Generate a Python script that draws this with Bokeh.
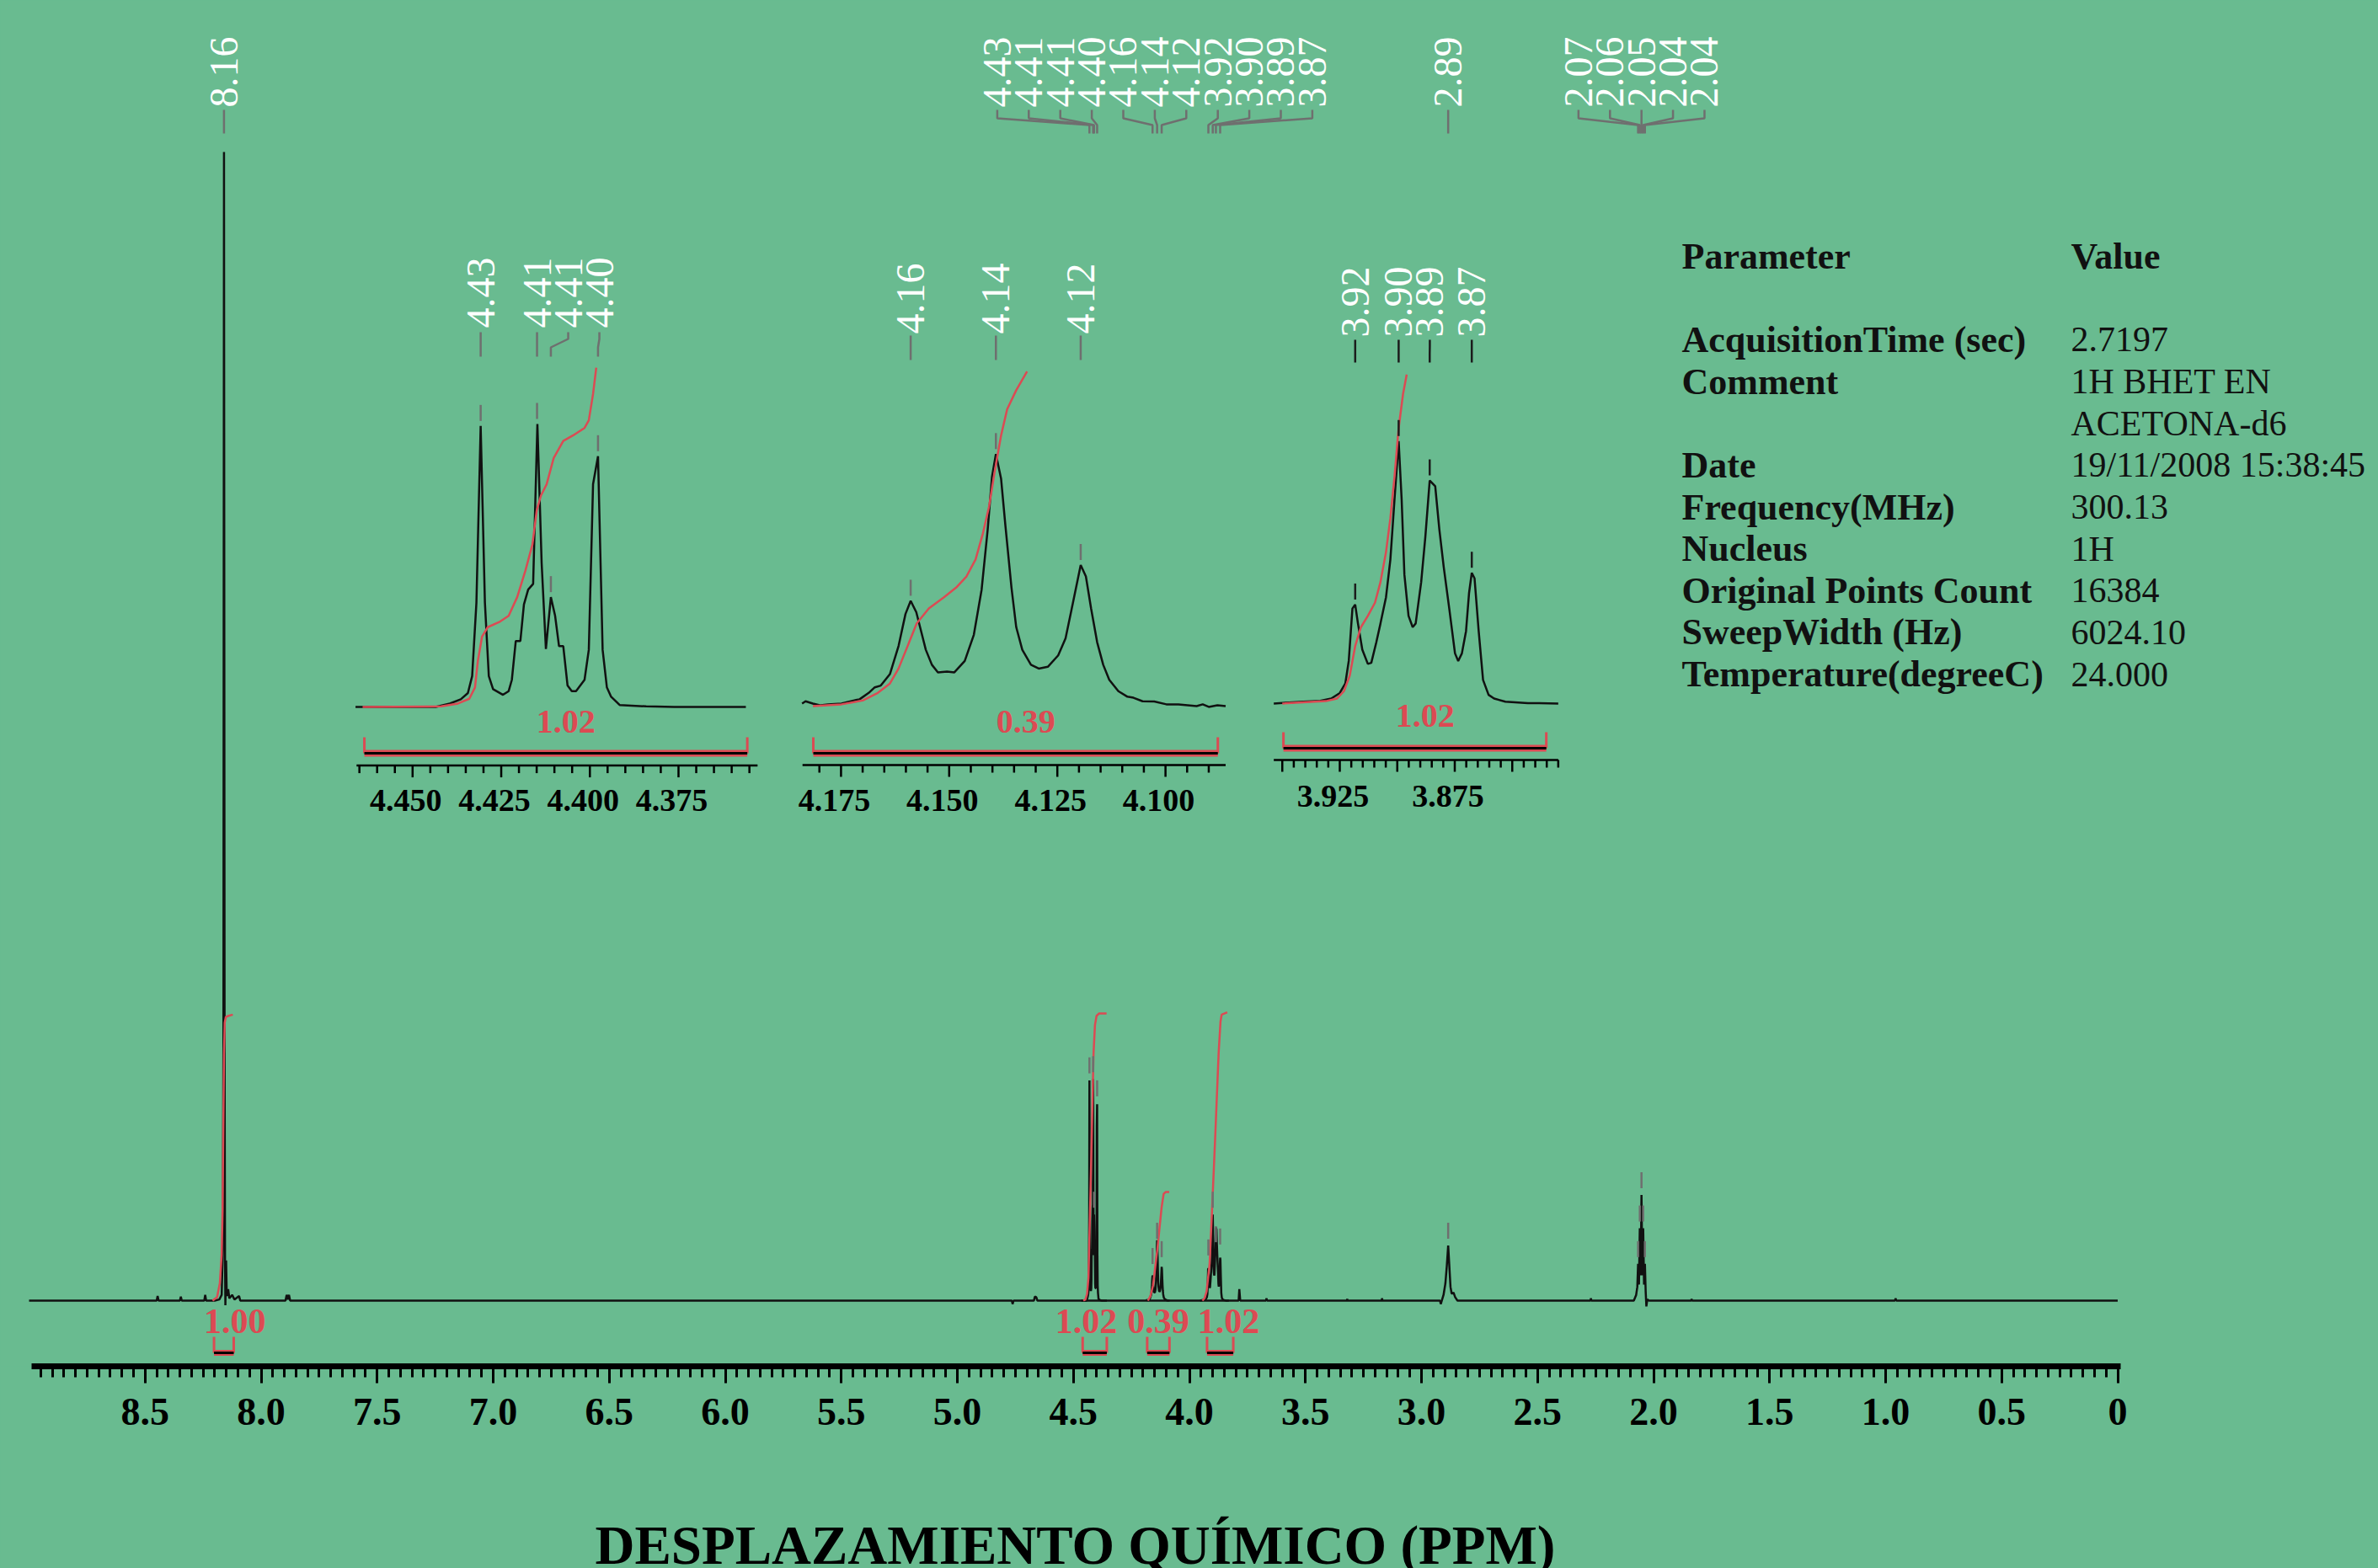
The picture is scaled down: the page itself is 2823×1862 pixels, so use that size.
import numpy as np
from bokeh.plotting import figure
from bokeh.layouts import column
from bokeh.models import Range1d, FixedTicker, PrintfTickFormatter
from bokeh.core.properties import value
from bokeh.embed import file_html
from bokeh.resources import INLINE

# ----------------------------------------------------------------- data
# main 1H spectrum outside the three zoomed multiplets (ppm, intensity; 8.16 singlet = 100)
MAIN_TRACE = [
    (9.000, 0.0), (8.450, 0.0), (8.446, 0.4), (8.442, 0.0), (8.350, 0.0), (8.346, 0.35),
    (8.342, 0.0), (8.245, 0.0), (8.241, 0.5), (8.237, 0.0), (8.200, 0.0), (8.180, 0.1),
    (8.170, 0.5), (8.165, 4.5), (8.1625, 22.0), (8.1600, 100.0), (8.1575, 22.0), (8.1555, 3.0),
    (8.1540, -0.4), (8.1510, 3.5), (8.1480, 0.4), (8.1420, 1.0), (8.1370, 0.2), (8.1250, 0.5),
    (8.1150, 0.1), (8.0950, 0.4), (8.0900, 0.0), (7.8950, 0.0), (7.8900, 0.5), (7.8850, 0.1),
    (7.8800, 0.5), (7.8750, 0.0), (4.7650, 0.0), (4.7620, -0.3), (4.7580, 0.0), (4.6700, 0.0),
    (4.6660, 0.35), (4.6600, 0.3), (4.6550, 0.0), (4.4700, 0.0), (4.3500, 0.0), (4.1900, 0.0),
    (4.0800, 0.0), (3.9600, 0.0), (3.8250, 0.0), (3.7880, 0.0), (3.7850, 1.0), (3.7810, 0.0),
    (3.6700, 0.0), (3.6680, 0.2), (3.6650, 0.0), (3.3220, 0.0), (3.3200, 0.15), (3.3180, 0.0),
    (3.1720, 0.0), (3.1700, 0.2), (3.1680, 0.0), (2.9600, 0.0), (2.9200, 0.0), (2.9170, -0.3),
    (2.9050, 0.5), (2.8970, 1.5), (2.8910, 3.0), (2.8850, 4.8), (2.8800, 3.0), (2.8750, 1.2),
    (2.8700, 0.6), (2.8620, 0.7), (2.8550, 0.3), (2.8450, 0.0), (2.2720, 0.0), (2.2700, 0.2),
    (2.2680, 0.0), (2.0850, 0.0), (2.0750, 0.5), (2.0700, 1.2), (2.0667, 3.2), (2.0630, 1.4),
    (2.0593, 6.3), (2.0556, 2.2), (2.0520, 9.2), (2.0483, 2.2), (2.0447, 6.3), (2.0410, 1.4),
    (2.0373, 3.2), (2.0340, 0.8), (2.0310, -0.5), (2.0270, 0.1), (2.0200, 0.0), (1.8380, 0.0),
    (1.8360, 0.15), (1.8340, 0.0), (0.9600, 0.0), (0.9570, 0.2), (0.9540, 0.0), (0.0000, 0.0),
]

# zoomed multiplets (ppm, intensity; tallest line of each multiplet = 100)
IN1_TRACE = [
    (4.4661, 0.0), (4.4435, 0.0), (4.4395, 1.2), (4.4364, 2.7), (4.4344, 4.9), (4.4332, 10.9),
    (4.4320, 36.8), (4.4308, 99.3), (4.4296, 36.8), (4.4285, 10.9), (4.4273, 6.3), (4.4245, 4.3),
    (4.4229, 5.6), (4.4220, 9.6), (4.4209, 23.3), (4.4196, 23.3), (4.4186, 36.2), (4.4174, 41.5),
    (4.4160, 43.5), (4.4148, 100.0), (4.4136, 50.8), (4.4124, 20.5), (4.4110, 38.8), (4.4098, 32.2),
    (4.4087, 21.5), (4.4075, 21.5), (4.4063, 7.6), (4.4051, 5.6), (4.4039, 5.6), (4.4015, 9.6),
    (4.4003, 20.2), (4.3991, 78.7), (4.3977, 88.6), (4.3964, 20.2), (4.3952, 6.9), (4.3940, 3.6),
    (4.3916, 0.7), (4.3841, 0.2), (4.3762, 0.0), (4.3560, 0.0),
]
IN2_TRACE = [
    (4.1840, 1.0), (4.1832, 1.9), (4.1815, 1.0), (4.1797, 0.3), (4.1780, 0.7), (4.1749, 1.0),
    (4.1721, 2.2), (4.1707, 2.7), (4.1686, 5.2), (4.1672, 7.4), (4.1658, 8.1), (4.1637, 12.6),
    (4.1617, 23.7), (4.1601, 36.3), (4.1589, 41.5), (4.1576, 37.0), (4.1554, 22.2), (4.1540, 16.3),
    (4.1526, 13.3), (4.1505, 13.6), (4.1488, 13.3), (4.1464, 17.8), (4.1443, 28.1), (4.1425, 45.9),
    (4.1411, 69.6), (4.1401, 90.4), (4.1392, 99.3), (4.1380, 89.6), (4.1370, 71.1), (4.1356, 46.7),
    (4.1345, 31.1), (4.1331, 22.2), (4.1311, 16.3), (4.1293, 14.8), (4.1272, 15.5), (4.1248, 20.0),
    (4.1231, 26.7), (4.1213, 41.5), (4.1196, 55.6), (4.1184, 51.1), (4.1172, 38.5), (4.1158, 25.2),
    (4.1144, 16.3), (4.1130, 10.4), (4.1109, 5.9), (4.1088, 3.7), (4.1074, 3.3), (4.1053, 1.9),
    (4.1026, 1.8), (4.0998, 0.7), (4.0970, 0.7), (4.0928, 0.0), (4.0914, 0.7), (4.0900, -0.3),
    (4.0880, 0.3), (4.0861, 0.0),
]
IN3_TRACE = [
    (3.9537, 0.0), (3.9470, 0.4), (3.9409, 0.7), (3.9335, 1.0), (3.9287, 1.9), (3.9250, 4.0),
    (3.9226, 7.6), (3.9211, 16.2), (3.9195, 36.2), (3.9183, 37.7), (3.9171, 30.5), (3.9152, 20.5),
    (3.9128, 15.1), (3.9113, 15.5), (3.9091, 23.4), (3.9073, 30.5), (3.9049, 40.5), (3.9030, 54.9),
    (3.9012, 77.8), (3.8994, 100.0), (3.8981, 77.8), (3.8969, 49.1), (3.8951, 33.4), (3.8933, 29.1),
    (3.8920, 30.5), (3.8896, 46.3), (3.8878, 63.5), (3.8859, 85.0), (3.8835, 82.8), (3.8817, 66.3),
    (3.8798, 52.0), (3.8774, 36.2), (3.8749, 19.1), (3.8735, 16.2), (3.8719, 19.1), (3.8701, 27.6),
    (3.8688, 42.0), (3.8676, 49.8), (3.8664, 47.7), (3.8646, 27.6), (3.8627, 9.0), (3.8603, 3.3),
    (3.8579, 1.9), (3.8530, 0.7), (3.8432, 0.1), (3.8383, 0.1), (3.8300, 0.0),
]
# height of each multiplet's tallest line in main-spectrum units
CLUSTER_SCALE = [0.193, 0.053, 0.075]

# integral curves, insets (inset units)
IN1_INTEGRAL = [
    (4.4641, 0.0), (4.4419, 0.2), (4.4372, 1.2), (4.4340, 2.9), (4.4324, 6.9), (4.4316, 16.2),
    (4.4304, 24.9), (4.4288, 28.2), (4.4253, 30.2), (4.4229, 32.2), (4.4205, 38.8), (4.4182, 48.1),
    (4.4162, 57.4), (4.4150, 69.4), (4.4138, 74.7), (4.4122, 78.7), (4.4102, 88.0), (4.4075, 94.0),
    (4.4047, 96.0), (4.4015, 98.6), (4.4003, 101.3), (4.3991, 110.6), (4.3982, 119.9),
]
IN2_INTEGRAL = [
    (4.1815, 0.0), (4.1749, 0.7), (4.1700, 2.2), (4.1665, 5.2), (4.1637, 8.9), (4.1617, 14.8),
    (4.1596, 23.7), (4.1575, 32.6), (4.1547, 38.5), (4.1512, 42.9), (4.1484, 46.7), (4.1460, 51.1),
    (4.1439, 57.8), (4.1422, 68.1), (4.1408, 78.5), (4.1394, 93.3), (4.1380, 106.7), (4.1366, 117.0),
    (4.1345, 124.5), (4.1320, 131.9),
]
IN3_INTEGRAL = [
    (3.9500, 0.0), (3.9311, 0.9), (3.9262, 1.9), (3.9232, 4.7), (3.9207, 10.5), (3.9183, 21.9),
    (3.9158, 29.1), (3.9128, 33.4), (3.9097, 38.4), (3.9073, 46.3), (3.9049, 57.7), (3.9030, 70.6),
    (3.9012, 86.4), (3.8994, 105.0), (3.8975, 117.9), (3.8959, 125.4),
]
# integral curves, main spectrum (main units)
MAIN_INTEGRALS = [
    [(8.209, 0.0), (8.190, 0.3), (8.178, 1.5), (8.170, 4.0), (8.166, 8.0), (8.163, 15.0),
     (8.160, 21.5), (8.157, 24.2), (8.152, 24.7), (8.140, 24.8), (8.122, 24.9)],
    [(4.457, 0.0), (4.448, 0.1), (4.441, 0.6), (4.435, 2.0), (4.424, 11.5), (4.413, 21.6),
     (4.407, 24.0), (4.400, 24.8), (4.389, 25.0), (4.357, 25.0)],
    [(4.179, 0.0), (4.168, 0.4), (4.157, 1.3), (4.138, 4.5), (4.120, 8.1), (4.111, 9.3),
     (4.102, 9.46), (4.087, 9.46)],
    [(3.944, 0.0), (3.935, 0.2), (3.926, 0.8), (3.913, 3.2), (3.902, 8.1), (3.889, 14.2),
     (3.874, 21.6), (3.866, 24.3), (3.861, 24.9), (3.837, 25.1)],
]
MAIN_INTEG_FROM = [8.203, 4.460, 4.182, 3.924]
MAIN_INTEG_TO = [8.118, 4.356, 4.086, 3.811]
MAIN_INTEG_LABELS = ["1.00", "1.02", "0.39", "1.02"]

IN_INTEG_FROM = [4.4636, 4.1814, 3.9495]
IN_INTEG_TO = [4.3556, 4.0879, 3.8352]
IN_INTEG_LABELS = ["1.02", "0.39", "1.02"]

# picked peaks of the main spectrum
MAIN_PEAK_PPM = [8.160,
                 4.4308, 4.4149, 4.4110, 4.3977, 4.1589, 4.1392, 4.1196,
                 3.9183, 3.8994, 3.8859, 3.8676,
                 2.885,
                 2.0667, 2.0593, 2.0520, 2.0447, 2.0373]
MAIN_PEAK_LABELS = ["8.16",
                    "4.43", "4.41", "4.41", "4.40", "4.16", "4.14", "4.12",
                    "3.92", "3.90", "3.89", "3.87",
                    "2.89",
                    "2.07", "2.06", "2.05", "2.04", "2.04"]
MAIN_PEAK_HEIGHT = [100.0,
                    19.2, 19.3, 7.5, 17.2, 2.6, 4.8, 3.2,
                    3.35, 7.5, 4.5, 4.3,
                    4.8,
                    3.2, 6.3, 9.2, 6.3, 3.2]
MAIN_PEAK_GROUP = [0, 1, 1, 1, 1, 1, 1, 1, 1, 1, 1, 1, 2, 3, 3, 3, 3, 3]

IN1_PEAK_PPM = [4.4308, 4.4149, 4.4110, 4.3977]
IN1_PEAK_HEIGHT = [99.3, 100.0, 38.8, 88.6]
IN1_PEAK_LABELS = ["4.43", "4.41", "4.41", "4.40"]
IN2_PEAK_PPM = [4.1589, 4.1392, 4.1196]
IN2_PEAK_HEIGHT = [41.5, 99.3, 55.6]
IN2_PEAK_LABELS = ["4.16", "4.14", "4.12"]
IN3_PEAK_PPM = [3.9183, 3.8994, 3.8859, 3.8676]
IN3_PEAK_HEIGHT = [37.7, 100.0, 85.0, 49.8]
IN3_PEAK_LABELS = ["3.92", "3.90", "3.89", "3.87"]

# axes
X_TICKS = [0.0, 0.5, 1.0, 1.5, 2.0, 2.5, 3.0, 3.5, 4.0, 4.5, 5.0, 5.5, 6.0, 6.5, 7.0, 7.5, 8.0, 8.5]
X_TICK_LABELS = ["0", "0.5", "1.0", "1.5", "2.0", "2.5", "3.0", "3.5", "4.0", "4.5", "5.0",
                 "5.5", "6.0", "6.5", "7.0", "7.5", "8.0", "8.5"]
X_TITLE = "DESPLAZAMIENTO QUÍMICO (PPM)"
IN1_TICK_LABELS = ["4.450", "4.425", "4.400", "4.375"]
IN2_TICK_LABELS = ["4.175", "4.150", "4.125", "4.100"]
IN3_TICK_LABELS = ["3.925", "3.875"]
IN_TICK_SPAN = [(4.465, 4.355), (4.180, 4.090), (3.950, 3.830)]
IN_AXIS_SPAN = [(4.4658, 4.3527), (4.1839, 4.0861), (3.9537, 3.8300)]

# acquisition parameters
TABLE_HEADER = ["Parameter", "Value"]
TABLE_PARAMS = ["AcquisitionTime (sec)", "Comment", "Date", "Frequency(MHz)", "Nucleus",
                "Original Points Count", "SweepWidth (Hz)", "Temperature(degreeC)"]
TABLE_VALUES = [["2.7197"], ["1H BHET  EN", "ACETONA-d6"], ["19/11/2008 15:38:45"], ["300.13"],
                ["1H"], ["16384"], ["6024.10"], ["24.000"]]

# ----------------------------------------------------------------- style / layout
BG = "#69bb90"
RED = "#dc4a53"
GRAY = "#6f6f6f"
INK = "#111111"
SERIF = "Liberation Serif"

W = 2823
H_MAIN, H_TITLE = 1800, 62
FRAME_BOTTOM = 1622          # page y of the main axis line
FRAME_RIGHT = W

MAIN_ZERO_PX, MAIN_PPP = 2513.5, 275.5
MAIN_BASE, MAIN_PPU = 1544.0, 13.64


def x_rng(ref_px, ref_ppm, ppp):
    return Range1d(start=ref_ppm + ref_px / ppp, end=ref_ppm - (FRAME_RIGHT - ref_px) / ppp)


def y_rng(base_px, ppu):
    return Range1d(start=-(FRAME_BOTTOM - base_px) / ppu, end=base_px / ppu)


def main_px(ppm):
    return MAIN_ZERO_PX - MAIN_PPP * ppm


def main_ppm(px):
    return (MAIN_ZERO_PX - px) / MAIN_PPP


INSETS = [
    dict(ref_px=489.3, ref_ppm=4.450, ppp=4209.0, base=839.0, ppu=3.36,
         trace=IN1_TRACE, integ=IN1_INTEGRAL, pk=IN1_PEAK_PPM, ph=IN1_PEAK_HEIGHT, pl=IN1_PEAK_LABELS,
         ticklab=IN1_TICK_LABELS, lab_bottom=389, conn=[394, 402, 412, 423], brk=(875, 894),
         integ_lab_y=856, axis_y=908.6, ticklab_y=949.6, col=GRAY),
    dict(ref_px=997.9, ref_ppm=4.175, ppp=5136.0, base=838.0, ppu=3.013,
         trace=IN2_TRACE, integ=IN2_INTEGRAL, pk=IN2_PEAK_PPM, ph=IN2_PEAK_HEIGHT, pl=IN2_PEAK_LABELS,
         ticklab=IN2_TICK_LABELS, lab_bottom=396, conn=[398, 406, 416, 427], brk=(875, 894),
         integ_lab_y=856, axis_y=908.0, ticklab_y=949.6, col=GRAY),
    dict(ref_px=1590.0, ref_ppm=3.925, ppp=2730.0, base=834.9, ppu=3.116,
         trace=IN3_TRACE, integ=IN3_INTEGRAL, pk=IN3_PEAK_PPM, ph=IN3_PEAK_HEIGHT, pl=IN3_PEAK_LABELS,
         ticklab=IN3_TICK_LABELS, lab_bottom=400, conn=[403, 411, 420, 430], brk=(869, 888),
         integ_lab_y=849, axis_y=902.0, ticklab_y=945.0, col="#1c1c1c"),
]

p = figure(width=W, height=H_MAIN, title=None,
           x_range=x_rng(MAIN_ZERO_PX, 0.0, MAIN_PPP), y_range=y_rng(MAIN_BASE, MAIN_PPU),
           output_backend="svg", toolbar_location=None, y_axis_location=None,
           min_border=0, min_border_bottom=H_MAIN - FRAME_BOTTOM,
           background_fill_color=BG, border_fill_color=BG, outline_line_color=None)
p.xgrid.visible = False
p.ygrid.visible = False

p.extra_x_ranges = {"px": Range1d(start=0, end=FRAME_RIGHT)}
p.extra_y_ranges = {"px": Range1d(start=FRAME_BOTTOM, end=0)}
for k, f in enumerate(CLUSTER_SCALE):
    p.extra_y_ranges["c%d" % k] = y_rng(MAIN_BASE, MAIN_PPU * f)
for k, d in enumerate(INSETS):
    p.extra_x_ranges["ix%d" % k] = x_rng(d["ref_px"], d["ref_ppm"], d["ppp"])
    p.extra_y_ranges["iy%d" % k] = y_rng(d["base"], d["ppu"])

# ---- main x axis
ax = p.xaxis[0]
minor = [round(0.05 * i, 2) for i in range(0, 180)]
ax.ticker = FixedTicker(ticks=X_TICKS, minor_ticks=minor)
ax.formatter = PrintfTickFormatter(format="%.1f")
ax.major_label_overrides = {float(t): l for t, l in zip(X_TICKS, X_TICK_LABELS)}
ax.bounds = (-0.012, 8.99)
ax.axis_line_width = 7
ax.axis_line_color = "black"
ax.major_tick_line_width = 3
ax.minor_tick_line_width = 3
ax.major_tick_line_color = "black"
ax.minor_tick_line_color = "black"
ax.major_tick_in = 0
ax.minor_tick_in = 0
ax.major_tick_out = 20
ax.minor_tick_out = 13
ax.major_label_standoff = 18
ax.major_label_text_font = SERIF
ax.major_label_text_font_style = "bold"
ax.major_label_text_font_size = "46px"
ax.major_label_text_color = "black"

# ---- main spectrum
mx, my = zip(*MAIN_TRACE)
p.line(list(mx), list(my), line_color=INK, line_width=2.5)
for k, tr in enumerate([IN1_TRACE, IN2_TRACE, IN3_TRACE]):
    tx, ty = zip(*tr)
    p.line(list(tx), list(ty), y_range_name="c%d" % k, line_color=INK, line_width=2.5)

# main integrals
for curve in MAIN_INTEGRALS:
    cx, cy = zip(*curve)
    p.line(list(cx), list(cy), line_color=RED, line_width=2.5)


def bracket(x0, x1, y_top, y_bot, xr_name, lw_red=7, lw_black=3):
    p.segment([x0, x1], [y_top, y_top], [x0, x1], [y_bot, y_bot], x_range_name=xr_name,
              y_range_name="px", line_color=RED, line_width=3)
    p.segment([x0], [y_bot], [x1], [y_bot], x_range_name=xr_name, y_range_name="px",
              line_color=RED, line_width=lw_red)
    p.segment([x0], [y_bot], [x1], [y_bot], x_range_name=xr_name, y_range_name="px",
              line_color="black", line_width=lw_black)


MAIN_INTEG_LABEL_DX = [13, -10, 0, 10]
for a, b in zip(MAIN_INTEG_FROM, MAIN_INTEG_TO):
    bracket(a, b, 1587, 1606, "default")
p.text(x=[0.5 * (a + b) for a, b in zip(MAIN_INTEG_FROM, MAIN_INTEG_TO)], y=[1568] * 4,
       text=MAIN_INTEG_LABELS, x_offset=MAIN_INTEG_LABEL_DX, y_range_name="px", text_color=RED,
       text_font=value(SERIF), text_font_style="bold", text_font_size="42px",
       text_align="center", text_baseline="middle")

# main peak markers
GAP, LEN = 8, 19
sel = [i for i, g in enumerate(MAIN_PEAK_GROUP) if g != 0]
p.segment([MAIN_PEAK_PPM[i] for i in sel], [MAIN_PEAK_HEIGHT[i] + GAP / MAIN_PPU for i in sel],
          [MAIN_PEAK_PPM[i] for i in sel], [MAIN_PEAK_HEIGHT[i] + (GAP + LEN) / MAIN_PPU for i in sel],
          line_color=GRAY, line_width=2.5)

# main peak labels (spread per group)
LABEL_GAP = 37.4
lab_px = [0.0] * len(MAIN_PEAK_PPM)
for g in sorted(set(MAIN_PEAK_GROUP)):
    idx = [i for i, gg in enumerate(MAIN_PEAK_GROUP) if gg == g]
    pxs = [main_px(MAIN_PEAK_PPM[i]) for i in idx]
    c = 0.5 * (min(pxs) + max(pxs))
    n = len(idx)
    for k, i in enumerate(idx):
        lab_px[i] = c + (k - (n - 1) / 2) * LABEL_GAP
lab_ppm = [main_ppm(v) for v in lab_px]
p.multi_line([[l, l, q, q] for l, q in zip(lab_ppm, MAIN_PEAK_PPM)],
             [[130, 140, 148, 158]] * len(lab_ppm), y_range_name="px",
             line_color=GRAY, line_width=2.5)
p.text(x=lab_ppm, y=[127] * len(lab_ppm), text=MAIN_PEAK_LABELS, angle=np.pi / 2,
       y_range_name="px", text_color="white", text_font=value(SERIF), text_font_size="48px",
       text_align="left", text_baseline="middle")

# ---- insets
for k, d in enumerate(INSETS):
    xn, yn = "ix%d" % k, "iy%d" % k
    tx, ty = zip(*d["trace"])
    p.line(list(tx), list(ty), x_range_name=xn, y_range_name=yn, line_color=INK, line_width=2.5)
    ix, iy = zip(*d["integ"])
    p.line(list(ix), list(iy), x_range_name=xn, y_range_name=yn, line_color=RED, line_width=2.5)
    # peak markers
    gap, ln = 6, 19
    p.segment(d["pk"], [h + gap / d["ppu"] for h in d["ph"]], d["pk"],
              [h + (gap + ln) / d["ppu"] for h in d["ph"]], x_range_name=xn, y_range_name=yn,
              line_color=d["col"], line_width=2.5)
    # labels (pushed apart)
    pk_px = [d["ref_px"] - d["ppp"] * (v - d["ref_ppm"]) for v in d["pk"]]
    lp = []
    for v in pk_px:
        lp.append(v if not lp else max(v, lp[-1] + 37.0))
    lppm = [d["ref_ppm"] - (v - d["ref_px"]) / d["ppp"] for v in lp]
    p.multi_line([[l, l, q, q] for l, q in zip(lppm, d["pk"])], [d["conn"]] * len(lppm),
                 x_range_name=xn, y_range_name="px", line_color=d["col"], line_width=2.5)
    p.text(x=lppm, y=[d["lab_bottom"]] * len(lppm), text=d["pl"], angle=np.pi / 2,
           x_range_name=xn, y_range_name="px", text_color="white", text_font=value(SERIF),
           text_font_size="48px", text_align="left", text_baseline="middle")
    # integral bracket + value
    a, b = IN_INTEG_FROM[k], IN_INTEG_TO[k]
    bracket(a, b, d["brk"][0], d["brk"][1], xn, lw_red=8, lw_black=3)
    p.text(x=[0.5 * (a + b)], y=[d["integ_lab_y"]], text=[IN_INTEG_LABELS[k]], x_offset=12,
           x_range_name=xn, y_range_name="px", text_color=RED, text_font=value(SERIF),
           text_font_style="bold", text_font_size="40px", text_align="center", text_baseline="middle")
    # axis
    a0, a1 = IN_AXIS_SPAN[k]
    p.segment([a0], [d["axis_y"]], [a1], [d["axis_y"]], x_range_name=xn, y_range_name="px",
              line_color="black", line_width=2.5)
    t0, t1 = IN_TICK_SPAN[k]
    nt = int(round((t0 - t1) / 0.005))
    ticks = [round(t0 - 0.005 * i, 3) for i in range(nt + 1)]
    major = [abs(t / 0.025 - round(t / 0.025)) < 1e-6 for t in ticks]
    p.segment(ticks, [d["axis_y"]] * len(ticks), ticks,
              [d["axis_y"] + (14 if m else 9) for m in major], x_range_name=xn, y_range_name="px",
              line_color="black", line_width=2.5)
    tv = [float(s) for s in d["ticklab"]]
    p.text(x=tv, y=[d["ticklab_y"]] * len(tv), text=d["ticklab"], x_offset=-8,
           x_range_name=xn, y_range_name="px", text_color="black", text_font=value(SERIF),
           text_font_style="bold", text_font_size="38px", text_align="center", text_baseline="middle")

# ---- parameter table
ROW0, ROWH = 303.6, 49.65
COLX = [1996, 2458]
name_y, val_y, val_t = [], [], []
row = 2
for name, vals in zip(TABLE_PARAMS, TABLE_VALUES):
    name_y.append(ROW0 + ROWH * row)
    for j, v in enumerate(vals):
        val_y.append(ROW0 + ROWH * (row + j))
        val_t.append(v)
    row += len(vals)
p.text(x=COLX, y=[ROW0, ROW0], text=TABLE_HEADER, x_range_name="px", y_range_name="px",
       text_color=INK, text_font=value(SERIF), text_font_style="bold", text_font_size="44px",
       text_align="left", text_baseline="middle")
p.text(x=[COLX[0]] * len(name_y), y=name_y, text=TABLE_PARAMS, x_range_name="px", y_range_name="px",
       text_color=INK, text_font=value(SERIF), text_font_style="bold", text_font_size="44px",
       text_align="left", text_baseline="middle")
p.text(x=[COLX[1]] * len(val_y), y=val_y, text=val_t, x_range_name="px", y_range_name="px",
       text_color=INK, text_font=value(SERIF), text_font_size="42px",
       text_align="left", text_baseline="middle")

# ---- x-axis title strip below the main plot
pt = figure(width=W, height=H_TITLE, title=None, x_range=Range1d(0, W),
            y_range=Range1d(H_MAIN + H_TITLE, H_MAIN), output_backend="svg",
            toolbar_location=None, x_axis_location=None, y_axis_location=None, min_border=0,
            background_fill_color=BG, border_fill_color=BG, outline_line_color=None)
pt.grid.visible = False
pt.text(x=[1276], y=[1834], text=[X_TITLE], text_color="black", text_font=value(SERIF),
        text_font_style="bold", text_font_size="65px", text_align="center",
        text_baseline="alphabetic")

layout = column(p, pt, spacing=0, styles={"background-color": BG})
open("out.html", "w").write(file_html(layout, INLINE))
